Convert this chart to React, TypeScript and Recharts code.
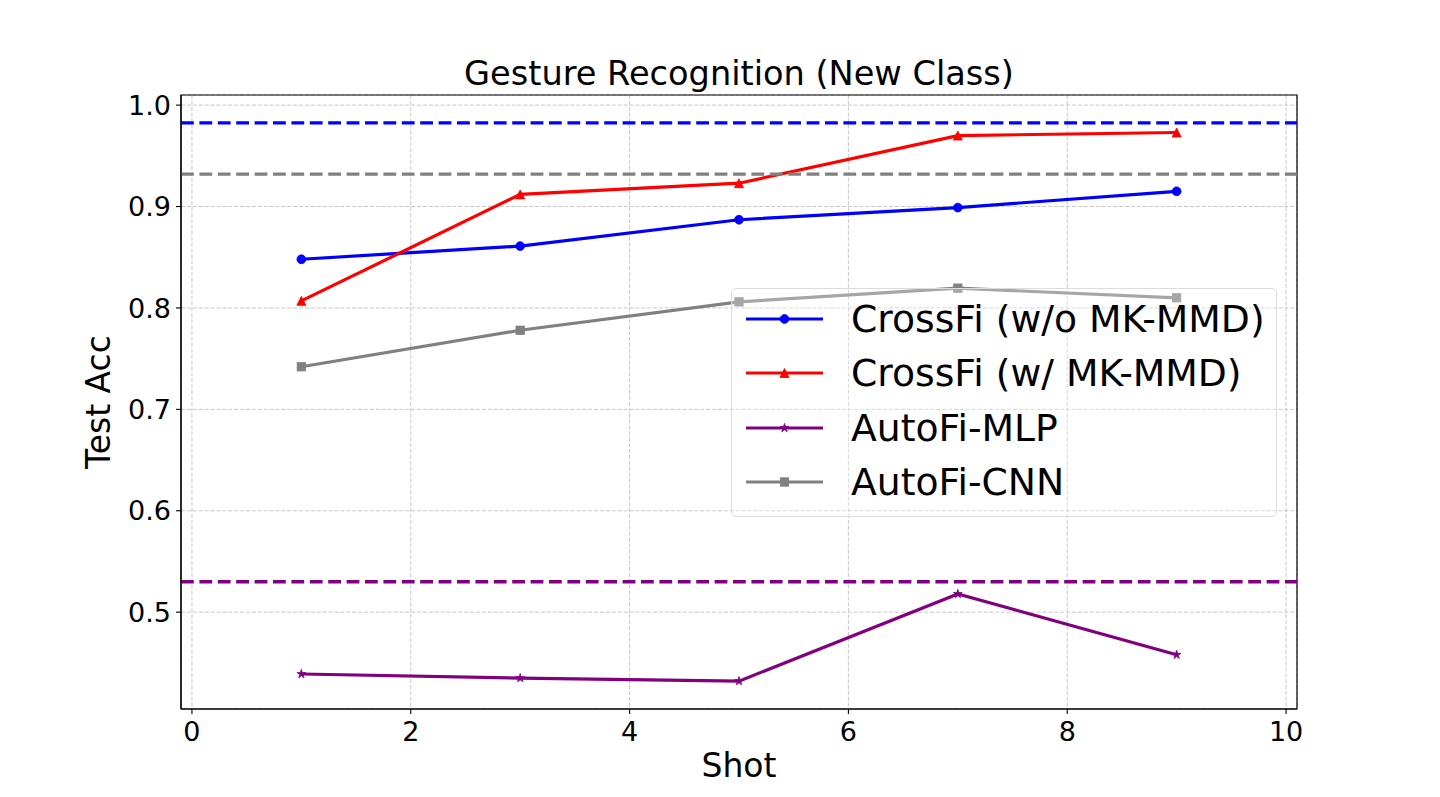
import React from 'react';
import {
  LineChart, Line, XAxis, YAxis, CartesianGrid, ReferenceLine, ReferenceArea, Label,
} from 'recharts';

const shots = [1, 3, 5, 7, 9];
const crossfiWoMmd = [0.848, 0.861, 0.887, 0.899, 0.915];
const crossfiWMmd = [0.807, 0.912, 0.923, 0.970, 0.973];
const autofiMlp = [0.439, 0.435, 0.432, 0.518, 0.458];
const autofiCnn = [0.742, 0.778, 0.806, 0.8195, 0.810];
const baselineValues = [0.9825, 0.932, 0.530];
const baselineColors = ['#0000ff', '#808080', '#800080'];
const xTicks = [0, 2, 4, 6, 8, 10];
const yTicks = [0.5, 0.6, 0.7, 0.8, 0.9, 1.0];
const seriesNames = ['CrossFi (w/o MK-MMD)', 'CrossFi (w/ MK-MMD)', 'AutoFi-MLP', 'AutoFi-CNN'];
const seriesKeys = ['woMmd', 'wMmd', 'mlp', 'cnn'];
const seriesColors = ['#0000ff', '#ff0000', '#800080', '#808080'];
const seriesMarkers = ['circle', 'triangle', 'star', 'square'];

const X_DOMAIN: [number, number] = [-0.1, 10.1];
const Y_DOMAIN: [number, number] = [0.4045, 1.01];

const data = shots.map((s, i) => ({
  shot: s,
  woMmd: crossfiWoMmd[i],
  wMmd: crossfiWMmd[i],
  mlp: autofiMlp[i],
  cnn: autofiCnn[i],
}));

const FONT = '"DejaVu Sans", sans-serif';

function starPoints(cx: number, cy: number, R: number) {
  const r = R * 0.38;
  const pts: string[] = [];
  for (let k = 0; k < 10; k++) {
    const ang = -Math.PI / 2 + (k * Math.PI) / 5;
    const rad = k % 2 === 0 ? R : r;
    pts.push(`${cx + rad * Math.cos(ang)},${cy + rad * Math.sin(ang)}`);
  }
  return pts.join(' ');
}

function Marker({ type, cx, cy, color }: { type: string; cx: number; cy: number; color: string }) {
  if (type === 'circle') {
    return <circle cx={cx} cy={cy} r={4.4} fill={color} stroke={color} strokeWidth={0.8} />;
  }
  if (type === 'triangle') {
    const h = 4.5;
    return (
      <polygon
        points={`${cx},${cy - h} ${cx - h},${cy + h} ${cx + h},${cy + h}`}
        fill={color}
        stroke={color}
        strokeWidth={0.8}
      />
    );
  }
  if (type === 'square') {
    const h = 4.2;
    return <rect x={cx - h} y={cy - h} width={2 * h} height={2 * h} fill={color} stroke={color} strokeWidth={0.8} />;
  }
  return <polygon points={starPoints(cx, cy, 4.6)} fill={color} stroke={color} strokeWidth={0.8} />;
}

const makeDot = (type: string, color: string) => (props: any) => {
  const { cx, cy, index } = props;
  if (cx == null || cy == null) return <g key={`d-${index}`} />;
  return <Marker key={`m-${type}-${index}`} type={type} cx={cx} cy={cy} color={color} />;
};

export default function App() {
  return (
    <div style={{ position: 'absolute', left: 0, top: 0, width: 1440, height: 797, background: '#fff', fontFamily: FONT }}>
      <LineChart
        width={1440}
        height={797}
        data={data}
        margin={{ top: 95, right: 143, bottom: 18, left: 81 }}
      >
        <CartesianGrid stroke="#c8c8c8" strokeDasharray="4.1 1.8" strokeWidth={1} />
        <XAxis
          dataKey="shot"
          type="number"
          domain={X_DOMAIN}
          ticks={xTicks}
          height={70}
          allowDataOverflow
          stroke="#000"
          tickSize={5}
          tickMargin={8}
          tick={{ fill: '#000', fontSize: 27, fontFamily: FONT }}
          axisLine={{ stroke: '#000', strokeWidth: 1.1 }}
          tickLine={{ stroke: '#000', strokeWidth: 1.1 }}
        >
          <Label
            content={(p: any) => {
              const vb = p.viewBox || { x: 181, width: 1116 };
              return (
                <text x={vb.x + vb.width / 2} y={777} textAnchor="middle" fontSize={33} fontFamily={FONT} fill="#000">
                  Shot
                </text>
              );
            }}
          />
        </XAxis>
        <YAxis
          type="number"
          domain={Y_DOMAIN}
          ticks={yTicks}
          width={100}
          allowDataOverflow
          tickFormatter={(v: number) => v.toFixed(1)}
          tickSize={5}
          tickMargin={5}
          tick={{ fill: '#000', fontSize: 27, fontFamily: FONT }}
          axisLine={{ stroke: '#000', strokeWidth: 1.1 }}
          tickLine={{ stroke: '#000', strokeWidth: 1.1 }}
        >
          <Label
            content={(p: any) => {
              const vb = p.viewBox || { y: 95, height: 614 };
              const cy = vb.y + vb.height / 2;
              return (
                <text
                  x={110}
                  y={cy}
                  transform={`rotate(-90 110 ${cy})`}
                  textAnchor="middle"
                  fontSize={33}
                  fontFamily={FONT}
                  fill="#000"
                >
                  Test Acc
                </text>
              );
            }}
          />
        </YAxis>
        {seriesKeys.map((k, i) => (
          <Line
            key={k}
            dataKey={k}
            name={seriesNames[i]}
            type="linear"
            stroke={seriesColors[i]}
            strokeWidth={3.2}
            dot={makeDot(seriesMarkers[i], seriesColors[i])}
            activeDot={false}
            isAnimationActive={false}
          />
        ))}
        {baselineValues.map((v, i) => (
          <ReferenceLine
            key={`b-${i}`}
            y={v}
            stroke={baselineColors[i]}
            strokeWidth={3.4}
            strokeDasharray="12.8 5.6"
          />
        ))}
        <ReferenceArea
          x1={X_DOMAIN[0]}
          x2={X_DOMAIN[1]}
          y1={Y_DOMAIN[0]}
          y2={Y_DOMAIN[1]}
          fill="none"
          fillOpacity={0}
          stroke="#000"
          strokeOpacity={1}
          strokeWidth={1.2}
        />
      </LineChart>
      <div
        style={{
          position: 'absolute',
          left: 0,
          top: 52,
          width: 1478,
          textAlign: 'center',
          fontSize: 33.6,
          lineHeight: '44px',
          color: '#000',
          pointerEvents: 'none',
        }}
      >
        Gesture Recognition (New Class)
      </div>
      <div
        style={{
          position: 'absolute',
          left: 731,
          top: 288,
          width: 546,
          height: 229,
          boxSizing: 'border-box',
          border: '1px solid #dcdcdc',
          borderRadius: 5,
          background: 'rgba(255,255,255,0.3)',
        }}
      >
        {seriesNames.map((name, i) => (
          <div
            key={name}
            style={{
              position: 'absolute',
              left: 0,
              top: 30 + i * 54.3 - 27,
              height: 54,
              width: 540,
              display: 'flex',
              alignItems: 'center',
            }}
          >
            <svg width={100} height={54} style={{ position: 'absolute', left: 0, top: 0 }}>
              <line x1={14} x2={91} y1={27} y2={27} stroke={seriesColors[i]} strokeWidth={3.2} />
              <Marker type={seriesMarkers[i]} cx={52.5} cy={27} color={seriesColors[i]} />
            </svg>
            <span style={{ position: 'absolute', left: 119, fontSize: 37.7, lineHeight: '54px', whiteSpace: 'nowrap', color: '#000' }}>
              {name}
            </span>
          </div>
        ))}
      </div>
    </div>
  );
}
